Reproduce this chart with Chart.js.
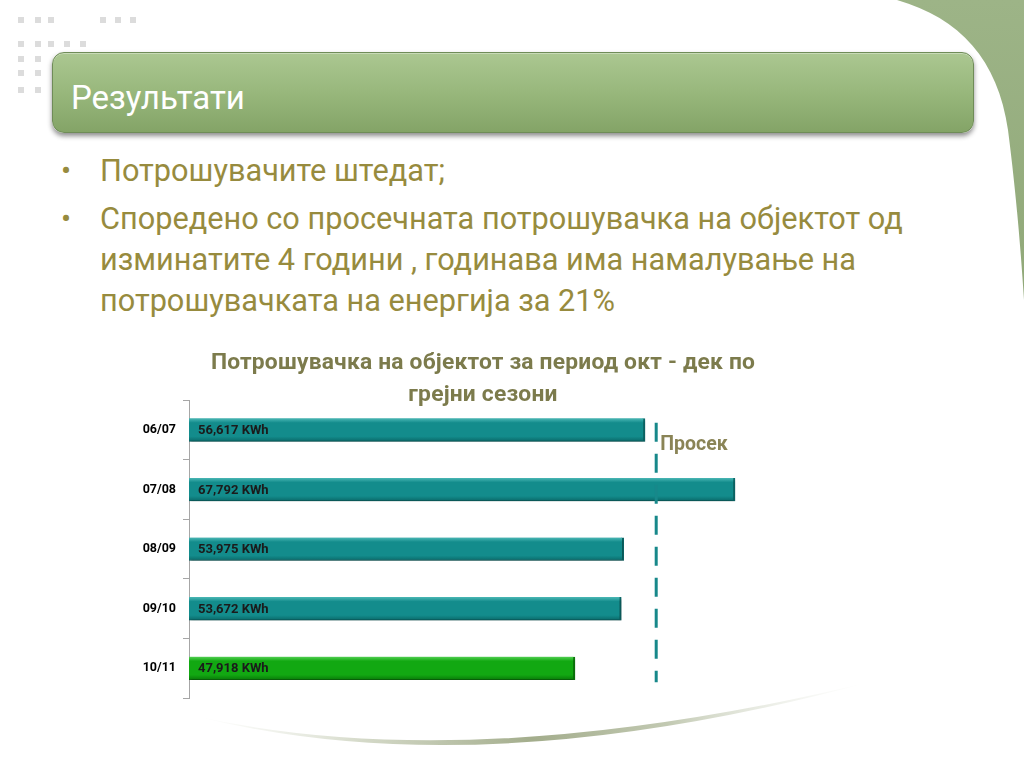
<!DOCTYPE html>
<html>
<head>
<meta charset="utf-8">
<script src="https://cdn.jsdelivr.net/npm/chart.js@4.4.1/dist/chart.umd.min.js"></script>
<style>
  html, body { margin:0; padding:0; width:1024px; height:768px; overflow:hidden; background:#fff; font-family: Roboto, "Noto Sans", sans-serif; }
  .abs { position:absolute; }
  .dot { position:absolute; width:6px; height:6px; background:#dcdcdc; }
  #hdr { left:52px; top:52px; width:920px; height:79px; border-radius:12px;
         background: linear-gradient(#abc791 0%, #9ab97e 45%, #84a467 100%);
         border:1px solid #6f8c58; box-shadow: 0 3px 5px rgba(0,0,0,0.45), inset 0 1px 0 rgba(255,255,255,0.35); }
  #hdr span { position:absolute; left:18px; top:25px; color:#fff; font-size:33px; line-height:40px; }
  .txt { position:absolute; left:100px; color:#978b3e; font-size:30.7px; line-height:41px; white-space:nowrap; }
  .bul { position:absolute; left:61px; color:#978b3e; font-size:30px; line-height:41px; }
  #ctitle { left:133px; top:346px; width:700px; text-align:center; color:#7c7b4c; font-weight:bold; font-size:22.8px; letter-spacing:0.2px; line-height:32px; z-index:2; }
  #c { position:absolute; left:120px; top:390px; }
</style>
</head>
<body>
<svg class="abs" style="left:0;top:0" width="1024" height="768">
  <defs>
    <linearGradient id="gsh" x1="0" y1="0" x2="0" y2="1">
      <stop offset="0" stop-color="#9db487"/>
      <stop offset="1" stop-color="#90a878"/>
    </linearGradient>
    <linearGradient id="sw" x1="195" y1="0" x2="870" y2="0" gradientUnits="userSpaceOnUse">
      <stop offset="0" stop-color="#e8ebe2" stop-opacity="0"/>
      <stop offset="0.25" stop-color="#d4d9c8"/>
      <stop offset="0.5" stop-color="#a3ad8c"/>
      <stop offset="0.7" stop-color="#c2c9b2"/>
      <stop offset="1" stop-color="#eef0ea" stop-opacity="0"/>
    </linearGradient>
  </defs>
  <path d="M897,0 C960,18 998,60 1008,130 C1017,200 1021,255 1024,300 L1024,0 Z" fill="url(#gsh)"/>
  <path d="M195,716 Q470,778 870,682 Q478,788 195,716 Z" fill="url(#sw)"/>
</svg>
<div class="dot" style="left:18px;top:17px"></div><div class="dot" style="left:35px;top:17px"></div><div class="dot" style="left:48px;top:17px"></div>
<div class="dot" style="left:100px;top:17px"></div><div class="dot" style="left:115px;top:17px"></div><div class="dot" style="left:130px;top:17px"></div>
<div class="dot" style="left:18px;top:41px"></div><div class="dot" style="left:35px;top:41px"></div><div class="dot" style="left:48px;top:41px"></div><div class="dot" style="left:64px;top:41px"></div><div class="dot" style="left:80px;top:41px"></div>
<div class="dot" style="left:18px;top:56px"></div><div class="dot" style="left:35px;top:56px"></div>
<div class="dot" style="left:18px;top:70px"></div><div class="dot" style="left:35px;top:70px"></div>
<div class="dot" style="left:18px;top:87px"></div><div class="dot" style="left:35px;top:87px"></div>

<div id="hdr" class="abs"><span>Результати</span></div>

<div class="bul" style="top:150px">•</div>
<div class="txt" style="top:150px">Потрошувачите штедат;</div>
<div class="bul" style="top:198px">•</div>
<div class="txt" style="top:198px">Споредено со просечната потрошувачка на објектот од</div>
<div class="txt" style="top:239px">изминатите 4 години , годинава има намалување на</div>
<div class="txt" style="top:280px">потрошувачката на енергија за 21%</div>

<div id="ctitle" class="abs">Потрошувачка на објектот за период окт - дек по<br>грејни сезони</div>
<canvas id="c" width="726" height="318"></canvas>

<script>
const seasons = ["06/07", "07/08", "08/09", "09/10", "10/11"];
const consumption = [56617, 67792, 53975, 53672, 47918];
const unitLabel = "KWh";
const averageLabel = "Просек";
const averageValue = (consumption[0] + consumption[1] + consumption[2] + consumption[3]) / 4;
const axisMax = 75000;

const teal = ["#45b3b1", "#138c8c", "#0b6e6e"];
const green = ["#4ccc4c", "#12a812", "#0a800a"];

function barGradient(ctx) {
  const chart = ctx.chart;
  const ys = chart.scales.y;
  const pal = ctx.dataIndex === seasons.length - 1 ? green : teal;
  if (!ys || !chart.chartArea) return pal[1];
  const yc = ys.getPixelForValue(ctx.dataIndex);
  const g = chart.ctx.createLinearGradient(0, yc - 11, 0, yc + 11);
  g.addColorStop(0, pal[0]);
  g.addColorStop(0.18, pal[1]);
  g.addColorStop(0.8, pal[1]);
  g.addColorStop(1, pal[2]);
  return g;
}

const shadowPlugin = {
  id: 'barShadow',
  beforeDatasetDraw(chart) {
    const c = chart.ctx;
    c.save();
    c.shadowColor = 'rgba(0,0,0,0.35)';
    c.shadowBlur = 3;
    c.shadowOffsetX = 1;
    c.shadowOffsetY = 2;
  },
  afterDatasetDraw(chart) { chart.ctx.restore(); }
};

const overlayPlugin = {
  id: 'overlay',
  afterDatasetsDraw(chart) {
    const c = chart.ctx;
    const xs = chart.scales.x, ys = chart.scales.y;
    const meta = chart.getDatasetMeta(0);
    c.save();
    c.font = 'bold 13px Roboto, "Noto Sans", sans-serif';
    c.fillStyle = '#1b1b1b';
    c.textBaseline = 'middle';
    c.textAlign = 'left';
    meta.data.forEach((bar, i) => {
      c.fillText(consumption[i].toLocaleString('en-US') + ' ' + unitLabel, bar.base + 9, bar.y + 1);
    });
    const ax = xs.getPixelForValue(averageValue);
    c.strokeStyle = '#17888a';
    c.lineWidth = 3;
    c.setLineDash([19, 12]);
    c.beginPath();
    c.moveTo(ax, ys.getPixelForValue(0) - 7);
    c.lineTo(ax, ys.getPixelForValue(seasons.length - 1) + 14);
    c.stroke();
    c.setLineDash([]);
    c.font = 'bold 19.5px Roboto, "Noto Sans", sans-serif';
    c.fillStyle = '#8a8456';
    c.textBaseline = 'alphabetic';
    c.fillText(averageLabel, ax + 4, ys.getPixelForValue(0) + 20);
    c.restore();
  }
};

new Chart(document.getElementById('c'), {
  type: 'bar',
  data: {
    labels: seasons,
    datasets: [{
      data: consumption,
      backgroundColor: barGradient,
      borderColor: (ctx) => ctx.dataIndex === seasons.length - 1 ? '#0b7a0b' : '#0c6a6a',
      borderWidth: { top: 0, left: 0, bottom: 1, right: 2 },
      borderSkipped: 'left',
      barThickness: 23
    }]
  },
  options: {
    indexAxis: 'y',
    responsive: false,
    animation: false,
    layout: { padding: { top: 10, bottom: 10, right: 53, left: 0 } },
    plugins: { legend: { display: false }, tooltip: { enabled: false } },
    scales: {
      x: { display: false, min: 0, max: axisMax },
      y: {
        afterFit(scale) { scale.width = 69; scale.paddingTop = 0; scale.paddingBottom = 0; },
        border: { color: '#a6a6a6', width: 1 },
        grid: { drawOnChartArea: false, tickLength: 6, color: '#a6a6a6' },
        ticks: { color: '#000', padding: 7, font: { family: 'Roboto, "Noto Sans", sans-serif', size: 12.5, weight: 'bold' } }
      }
    }
  },
  plugins: [shadowPlugin, overlayPlugin]
});
</script>
</body>
</html>
